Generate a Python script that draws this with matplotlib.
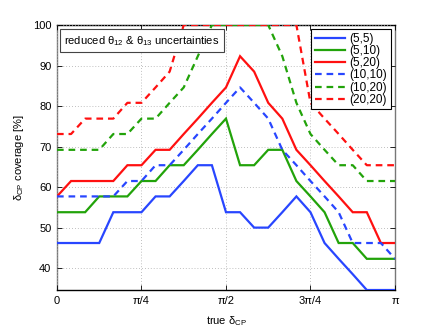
import numpy as np
import matplotlib
matplotlib.use("Agg")
import matplotlib.pyplot as plt

# ---- DATA (coverage in %) ----
delta_cp = np.linspace(0, np.pi, 25)

cov_5_5 = [46.2, 46.2, 46.2, 46.2, 53.8, 53.8, 53.8, 57.7, 57.7, 61.5, 65.4, 65.4, 53.8,
           53.8, 50.0, 50.0, 53.8, 57.7, 53.8, 46.2, 42.3, 38.5, 34.6, 34.6, 34.6]
cov_5_10 = [53.8, 53.8, 53.8, 57.7, 57.7, 57.7, 61.5, 61.5, 65.4, 65.4, 69.2, 73.1, 76.9,
            65.4, 65.4, 69.2, 69.2, 61.5, 57.7, 53.8, 46.2, 46.2, 42.3, 42.3, 42.3]
cov_5_20 = [57.7, 61.5, 61.5, 61.5, 61.5, 65.4, 65.4, 69.2, 69.2, 73.1, 76.9, 80.8, 84.6,
            92.3, 88.5, 80.8, 76.9, 69.2, 65.4, 61.5, 57.7, 53.8, 53.8, 46.2, 46.2]
cov_10_10 = [57.7, 57.7, 57.7, 57.7, 57.7, 61.5, 61.5, 65.4, 65.4, 69.2, 73.1, 76.9, 80.8,
             84.6, 80.8, 76.9, 69.2, 65.4, 61.5, 57.7, 53.8, 46.2, 46.2, 46.2, 42.3]
cov_10_20 = [69.2, 69.2, 69.2, 69.2, 73.1, 73.1, 76.9, 76.9, 80.8, 84.6, 92.3, 100, 100,
             100, 100, 100, 92.3, 80.8, 73.1, 69.2, 65.4, 65.4, 61.5, 61.5, 61.5]
cov_20_20 = [73.1, 73.1, 76.9, 76.9, 76.9, 80.8, 80.8, 84.6, 88.5, 100, 100, 100, 100,
             100, 100, 100, 100, 100, 80.8, 76.9, 73.1, 69.2, 65.4, 65.4, 65.4]

labels = ["(5,5)", "(5,10)", "(5,20)", "(10,10)", "(10,20)", "(20,20)"]
xtick_labels = ["0", "π/4", "π/2", "3π/4", "π"]
yticks = [40, 50, 60, 70, 80, 90, 100]

# ---- STYLE ----
plt.rcParams['font.family'] = ['Liberation Sans', 'DejaVu Sans']
plt.rcParams['mathtext.fontset'] = 'custom'
plt.rcParams['mathtext.rm'] = 'Liberation Sans'
plt.rcParams['mathtext.it'] = 'Liberation Sans'
plt.rcParams['font.size'] = 8

BLUE = '#2846ff'
GREEN = '#22a30a'
RED = '#ff1010'

fig = plt.figure(figsize=(4.36, 3.27), dpi=100)
ax = fig.add_axes([0.1307, 0.1131, 0.7752, 0.8104])

series = [cov_5_5, cov_5_10, cov_5_20, cov_10_10, cov_10_20, cov_20_20]
colors = [BLUE, GREEN, RED, BLUE, GREEN, RED]
for i, (vals, c, lab) in enumerate(zip(series, colors, labels)):
    if i < 3:
        ax.plot(delta_cp, vals, color=c, lw=1.6, label=lab, solid_joinstyle='miter')
    else:
        ax.plot(delta_cp, vals, color=c, lw=1.6, label=lab, dashes=(3.0, 2.2))

ax.set_xlim(0, np.pi)
ax.set_ylim(min(cov_5_5), 100)
ax.set_xticks(np.linspace(0, np.pi, 5))
ax.set_xticklabels(xtick_labels)
ax.set_yticks(yticks)
ax.tick_params(direction='in', top=True, right=True, length=3.5, width=0.6,
               labelsize=8, pad=4)
ax.grid(True, linestyle=(0, (1, 2.5)), color='#aaaaaa', lw=0.6)

for s in ['top', 'bottom']:
    ax.spines[s].set_color('black')
for s in ['left', 'right']:
    ax.spines[s].set_color('#777777')
for s in ax.spines.values():
    s.set_linewidth(1.0)
    s.set_zorder(1.5)

ax.set_xlabel("true δ$_{CP}$", labelpad=6)
ax.set_ylabel("δ$_{CP}$ coverage [%]", labelpad=5)

leg = ax.legend(loc='upper right', fontsize=8.5, handlelength=2.6, handletextpad=0.35,
                borderaxespad=0.35, borderpad=0.3, labelspacing=0.02,
                fancybox=False, framealpha=1, edgecolor='black')
leg.get_frame().set_linewidth(0.8)

ax.text(0.251, 0.94, "reduced θ$_{12}$ & θ$_{13}$ uncertainties", transform=ax.transAxes,
        ha='center', va='center', fontsize=8,
        bbox=dict(boxstyle='square,pad=0.42', facecolor='white', edgecolor='#444444', lw=0.8))

fig.savefig("out.png", dpi=100)
